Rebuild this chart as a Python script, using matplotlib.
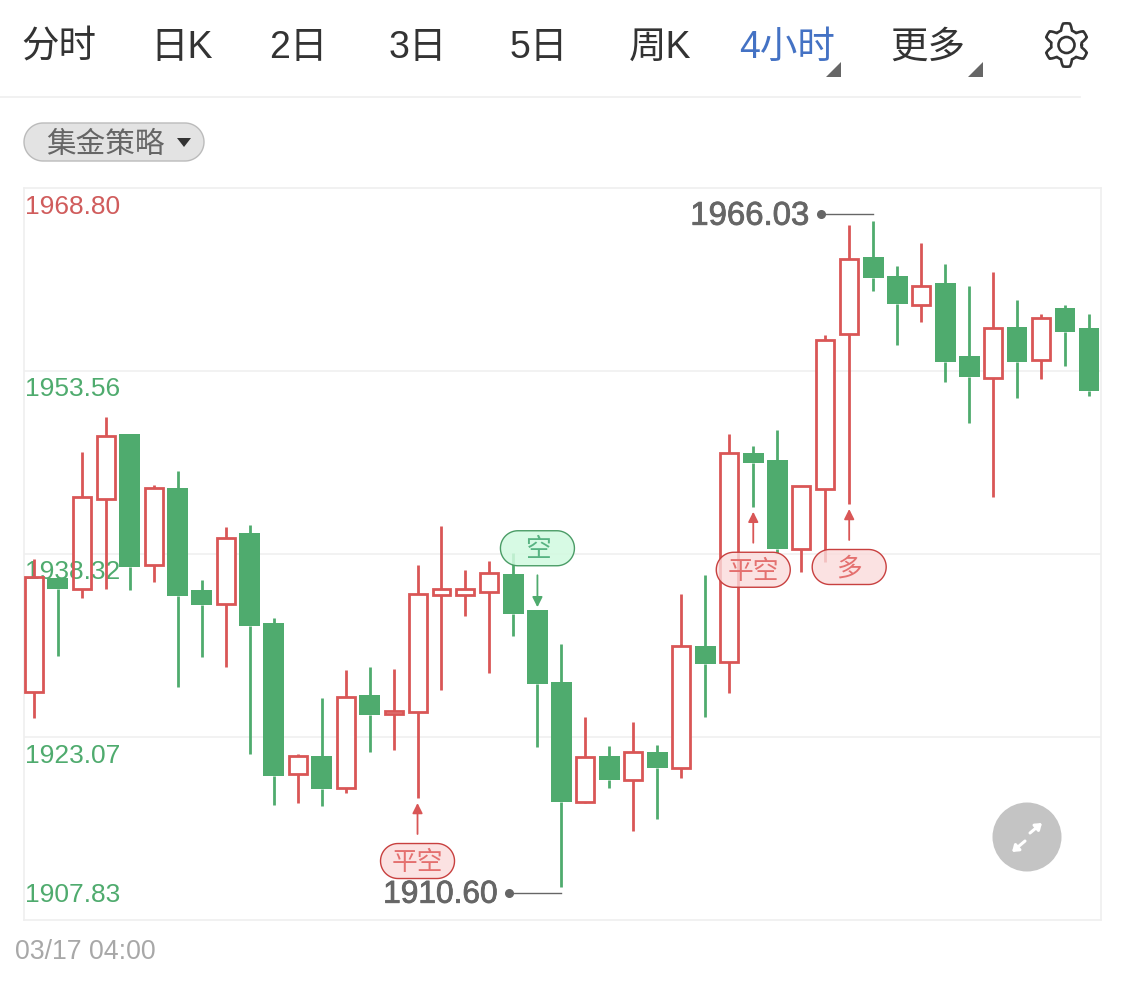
import matplotlib
matplotlib.use("Agg")
import matplotlib.pyplot as plt
import matplotlib.patheffects as pe
from matplotlib.patches import Polygon, Circle
import numpy as np

plt.rcParams['font.family'] = ['Liberation Sans', 'Noto Sans CJK SC']

# candles, 4 hour gold prices
opens = [1926.80, 1936.32, 1935.37, 1942.92, 1948.29, 1937.42, 1943.84, 1935.32, 1934.15, 1940.06,
         1932.57, 1919.99, 1921.52, 1918.82, 1926.57, 1924.99, 1925.15, 1934.88, 1934.93, 1935.18,
         1936.65, 1933.63, 1927.63, 1917.68, 1921.49, 1919.49, 1921.82, 1920.52, 1930.65, 1929.32,
         1946.70, 1946.12, 1938.76, 1943.73, 1956.66, 1963.05, 1961.47, 1959.05, 1960.86, 1954.81,
         1952.95, 1957.22, 1954.45, 1958.80, 1957.16]
closes = [1936.37, 1935.40, 1943.06, 1948.14, 1937.26, 1943.81, 1934.82, 1934.09, 1939.65, 1932.32,
          1919.85, 1921.49, 1918.77, 1926.43, 1924.90, 1925.24, 1934.98, 1935.40, 1935.42, 1936.76,
          1933.34, 1927.51, 1917.68, 1921.43, 1919.47, 1921.82, 1920.52, 1930.63, 1929.18, 1946.75,
          1945.92, 1938.73, 1943.98, 1956.11, 1962.89, 1961.33, 1959.11, 1960.64, 1954.31, 1953.08,
          1957.14, 1954.31, 1957.97, 1956.81, 1951.87]
highs = [1937.90, 1936.40, 1946.84, 1949.73, 1948.29, 1944.06, 1945.23, 1936.15, 1940.56, 1940.73,
         1932.98, 1921.63, 1926.32, 1928.65, 1928.90, 1928.74, 1937.40, 1940.67, 1936.98, 1937.76,
         1938.40, 1933.63, 1930.79, 1924.76, 1922.32, 1924.32, 1922.43, 1934.98, 1936.59, 1948.29,
         1947.34, 1948.64, 1943.98, 1956.53, 1965.69, 1966.03, 1962.30, 1964.19, 1962.44, 1960.64,
         1961.78, 1959.45, 1958.28, 1959.03, 1958.28]
lows = [1924.65, 1929.82, 1934.65, 1935.40, 1935.32, 1936.01, 1927.24, 1929.74, 1928.93, 1921.66,
        1917.41, 1917.60, 1917.33, 1918.43, 1921.85, 1921.99, 1917.99, 1926.99, 1933.15, 1928.43,
        1931.51, 1922.24, 1910.60, 1917.58, 1918.82, 1915.24, 1916.22, 1919.63, 1924.71, 1926.71,
        1942.25, 1938.40, 1936.84, 1937.67, 1942.48, 1960.22, 1955.72, 1957.61, 1952.62, 1949.23,
        1943.09, 1951.33, 1952.92, 1954.00, 1951.50]

y_ticks = [1968.80, 1953.56, 1938.32, 1923.07, 1907.83]
y_labels = ["1968.80", "1953.56", "1938.32", "1923.07", "1907.83"]
tab_labels = ["分时", "日K", "2日", "3日", "5日", "周K", "4小时", "更多"]
date_label = "03/17 04:00"
hi_idx = 35
lo_idx = 22

# signal markers: candle index, text, price the arrow points at
sig_idx = [16, 21, 30, 34]
sig_text = ["平空", "空", "平空", "多"]
sig_price = [1917.99, 1933.63, 1942.25, 1942.48]

RED = "#d95656"
GREEN = "#4fab6e"
GRID = "#efefef"
W, H = 1125, 983

fig = plt.figure(figsize=(W / 100, H / 100), dpi=100, facecolor="white")
ax = fig.add_axes([24 / W, 1 - 920 / H, (1101 - 24) / W, (920 - 188) / H])
ax.set_xlim(-0.409, 44.5)
ax.set_ylim(y_ticks[-1], y_ticks[0])
ax.set_xticks([])
ax.set_yticks(y_ticks[1:-1])
ax.set_yticklabels([])
ax.tick_params(length=0)
ax.grid(axis="y", color=GRID, lw=1.1)
ax.set_axisbelow(True)
for s in ax.spines.values():
    s.set_color(GRID)
    s.set_linewidth(1.2)

o = np.array(opens)
c = np.array(closes)
x = np.arange(len(o))
up = c >= o
cols = np.where(up, RED, GREEN)
top = np.maximum(o, c)
bot = np.minimum(o, c)

# axis labels sit between the white fill and the candle lines
ax.bar(x[up], (c - o)[up], bottom=o[up], width=0.75, color="white", linewidth=0, zorder=2)
ax.vlines(x, top, highs, colors=cols, lw=2.0, zorder=4)
ax.vlines(x, lows, bot, colors=cols, lw=2.0, zorder=4)
ax.bar(x[up], (c - o)[up], bottom=o[up], width=0.75, facecolor="none",
       edgecolor=RED, linewidth=2.0, zorder=4)
ax.bar(x[~up], (c - o)[~up], bottom=o[~up], width=0.87, color=GREEN, linewidth=0, zorder=4)

for i, lab in enumerate(y_labels):
    dy = 25 if i == len(y_labels) - 1 else -18.5
    ax.annotate(lab, xy=(0, y_ticks[i]), xycoords=("axes fraction", "data"),
                xytext=(1, dy), textcoords="offset pixels", va="center", ha="left",
                fontsize=19, color="#d05c5c" if i == 0 else GREEN, zorder=3)

# page overlay in pixel coordinates, for everything that is not a candle
ov = fig.add_axes([0, 0, 1, 1], zorder=5)
ov.set_xlim(0, W)
ov.set_ylim(H, 0)
ov.axis("off")


def to_px(i, price):
    px, py = ax.transData.transform((i, price))
    return px, H - py


def pill(cx, cy, w, h, **kw):
    r = h / 2
    a = np.linspace(-np.pi / 2, np.pi / 2, 40)
    xs = np.r_[cx + w / 2 - r + r * np.cos(a), cx - w / 2 + r - r * np.cos(a[::-1] * -1)]
    ys = np.r_[cy + r * np.sin(a), cy + r * np.sin(a[::-1])]
    ov.add_patch(Polygon(np.c_[xs, ys], closed=True, **kw))


# high / low callouts
hi_x, hi_y = to_px(hi_idx, highs[hi_idx])
lo_x, lo_y = to_px(lo_idx, lows[lo_idx])
for cx, cy, val, fs in [(hi_x, hi_y - 7, highs[hi_idx], 23.7), (lo_x, lo_y + 6, lows[lo_idx], 22.8)]:
    ov.plot([cx - 52, cx], [cy, cy], color="#666666", lw=1.0)
    ov.plot(cx - 52, cy, "o", color="#666666", ms=5.5)
    ov.text(cx - 64, cy + 2, "%.2f" % val, ha="right", va="center", fontsize=fs, color="#666666",
            path_effects=[pe.withStroke(linewidth=0.6, foreground="#666666")])

# signal arrows and badges
for i, txt, price in zip(sig_idx, sig_text, sig_price):
    sx, sy = to_px(i, price)
    if txt == "空":
        tip, tail, mid = sy - 3, sy - 35, sy - 62
        line, fill, edge, tcol = GREEN, (0.82, 0.98, 0.88, 0.85), "#4a9c66", "#58b382"
    else:
        tip, tail, mid = sy + 5, sy + 36, sy + 63
        line, fill, edge, tcol = RED, (0.98, 0.86, 0.86, 0.8), "#c8403f", "#e4706f"
    ov.annotate("", xy=(sx, tip), xytext=(sx, tail),
                arrowprops=dict(arrowstyle="-|>,head_width=0.3,head_length=0.6", color=line, lw=1.3,
                                shrinkA=0, shrinkB=0))
    pill(sx, mid, 74, 35, facecolor=fill, edgecolor=edge, lw=1.0)
    ov.text(sx, mid + 2, txt, ha="center", va="center", fontsize=18.5, color=tcol)

# tab bar
tab_x = [59, 182, 298, 418, 539, 660, 787, 928]
for lab, tx in zip(tab_labels, tab_x):
    ov.text(tx, 48, lab, ha="center", va="center", fontsize=27,
            color="#4472c4" if lab == "4小时" else "#333333")
ov.plot([0, 1080], [97, 97], color=GRID, lw=1.2)
for rx in [841, 983]:
    ov.add_patch(Polygon([[rx, 62], [rx, 77], [rx - 15, 77]], color="#666666", lw=0))

# settings gear
t = np.linspace(0, 2 * np.pi, 361)
r = 18.5 + 3.2 * np.clip(np.cos(6 * (t + np.pi / 6)) * 1.7, -1, 1)
ov.plot(1066.5 + r * np.cos(t), 45 + r * np.sin(t), color="#333333", lw=1.9)
ov.add_patch(Circle((1066.5, 45), 8, facecolor="none", edgecolor="#333333", lw=1.9))

# strategy pill
pill(114, 142, 180, 38, facecolor="#e3e3e3", edgecolor="#bbbbbb", lw=1.0)
ov.text(105, 145, "集金策略", ha="center", va="center", fontsize=21.3, color="#666666")
ov.add_patch(Polygon([[177, 138], [191, 138], [184, 147]], color="#333333", lw=0))

# expand button
ov.add_patch(Circle((1027, 837), 34.5, color="#c4c4c4", lw=0))
for p0, p1 in [((1025, 841), (1012, 852)), ((1030, 833), (1042, 823))]:
    ov.annotate("", xy=p1, xytext=p0,
                arrowprops=dict(arrowstyle="-|>,head_width=0.25,head_length=0.35", color="white", lw=2.2,
                                shrinkA=0, shrinkB=0))

ov.text(15, 952, date_label, ha="left", va="center", fontsize=19.3, color="#a8a8a8")

plt.savefig("out.png", dpi=100)
